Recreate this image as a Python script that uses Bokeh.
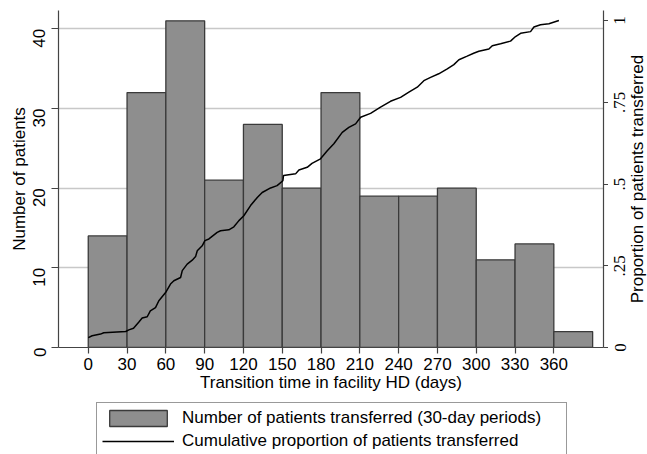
import math
from bokeh.plotting import figure
from bokeh.layouts import column, row
from bokeh.models import (Range1d, LinearAxis, FixedTicker, Legend, LegendItem,
                          LabelSet, Label, ColumnDataSource)
from bokeh.embed import file_html
from bokeh.resources import INLINE

# ---- data ----
bin_left = [0, 30, 60, 90, 120, 150, 180, 210, 240, 270, 300, 330, 360]
counts = [14, 32, 41, 21, 28, 20, 32, 19, 19, 20, 11, 13, 2]
bin_width = 30

cum_days = [0, 0.5, 3, 9.5, 12, 29, 31.4, 35, 39, 41.7, 45.6, 48, 52, 54.6, 59.8,
            63.6, 66.2, 71.4, 72.7, 76.5, 80.4, 83, 84.3, 88.1, 90.2, 93.3, 99.7,
            102.3, 108.7, 112.6, 116.5, 120.3, 125.5, 130.7, 134.5, 141, 146, 150.5,
            151, 160.3, 162.9, 169.3, 173, 179.6, 184.8, 189.9, 196.4, 201.5, 206.7,
            210.6, 218.3, 226, 233.7, 241.5, 247.9, 254.4, 259.5, 264.7, 271, 277.6,
            282.7, 286.6, 293, 298, 302, 309.8, 312.4, 318.8, 326.5, 330.4, 334.3,
            342, 344.6, 349.7, 356.2, 363.9]
cum_prop = [0.030, 0.031, 0.036, 0.041, 0.045, 0.049, 0.054, 0.059, 0.077, 0.090,
            0.094, 0.112, 0.122, 0.143, 0.168, 0.194, 0.204, 0.214, 0.235, 0.255,
            0.267, 0.278, 0.296, 0.311, 0.327, 0.332, 0.352, 0.357, 0.360, 0.369,
            0.388, 0.403, 0.434, 0.459, 0.474, 0.488, 0.495, 0.510, 0.526, 0.531,
            0.543, 0.551, 0.563, 0.577, 0.602, 0.623, 0.658, 0.673, 0.684, 0.704,
            0.716, 0.735, 0.753, 0.765, 0.781, 0.796, 0.816, 0.826, 0.837, 0.852,
            0.865, 0.880, 0.891, 0.900, 0.906, 0.913, 0.923, 0.929, 0.937, 0.951,
            0.961, 0.966, 0.980, 0.987, 0.990, 1.000]

x_ticks = [0, 30, 60, 90, 120, 150, 180, 210, 240, 270, 300, 330, 360]
left_ticks = [0, 10, 20, 30, 40]
right_ticks = [0, 0.25, 0.5, 0.75, 1]
right_tick_labels = ["0", ".25", ".5", ".75", "1"]

x_title = "Transition time in facility HD (days)"
left_title = "Number of patients"
right_title = "Proportion of patients transferred"
bar_label = "Number of patients transferred (30-day periods)"
line_label = "Cumulative proportion of patients transferred"

FONT = "Liberation Sans"
FS = "17px"
AXC = "#444444"
BAR_FILL = "#8e8e8e"
BAR_LINE = "#3a3a3a"

TOTAL_W, TOTAL_H = 647, 454
MAIN_H = 400
B_LEFT, B_RIGHT, B_TOP, B_BOTTOM = 58, 5, 10, 53
MAIN_W = 603 + B_RIGHT            # frame right edge at 603
S_W = TOTAL_W - MAIN_W            # strip on the right for right-axis texts
PROP_RANGE = (0, 1.0306)

p = figure(width=MAIN_W, height=MAIN_H, output_backend="svg", toolbar_location=None,
           x_range=Range1d(-23, 398.4), y_range=Range1d(0, 42.3),
           min_border_left=B_LEFT, min_border_right=B_RIGHT, min_border_top=B_TOP,
           min_border_bottom=B_BOTTOM)
p.extra_y_ranges = {"prop": Range1d(*PROP_RANGE)}
p.outline_line_color = None
p.background_fill_color = "white"
p.border_fill_color = "white"

bar_right = [l + bin_width for l in bin_left]
bars = p.quad(left=bin_left, right=bar_right, bottom=0, top=counts,
              fill_color=BAR_FILL, line_color=BAR_LINE, line_width=1.3)
cum_line = p.line(cum_days, cum_prop, y_range_name="prop",
                  line_color="black", line_width=1.5)

p.xgrid.visible = False
p.ygrid.ticker = FixedTicker(ticks=left_ticks)
p.ygrid.grid_line_color = "#c8c8c8"
p.ygrid.grid_line_width = 1.3


def style_axis(ax):
    ax.axis_line_color = AXC
    ax.axis_line_width = 1.2
    ax.major_tick_line_color = AXC
    ax.major_tick_line_width = 1.2
    ax.major_tick_in = 0
    ax.major_tick_out = 6
    ax.minor_tick_line_color = None
    ax.major_label_text_font = FONT
    ax.major_label_text_font_size = FS
    ax.major_label_text_color = "black"
    ax.axis_label_text_font = FONT
    ax.axis_label_text_font_size = FS
    ax.axis_label_text_font_style = "normal"
    ax.axis_label_text_color = "black"


xax = p.xaxis[0]
xax.ticker = FixedTicker(ticks=x_ticks)
xax.axis_label = x_title
style_axis(xax)
xax.major_label_standoff = 4
xax.axis_label_standoff = 0

yax = p.yaxis[0]
yax.ticker = FixedTicker(ticks=left_ticks)
yax.axis_label = left_title
style_axis(yax)
yax.major_tick_out = 7
yax.major_label_orientation = math.pi / 2
yax.major_label_standoff = 12
yax.axis_label_standoff = -4

# right axis in the main plot: line and ticks only (its texts sit in the strip)
rax = LinearAxis(y_range_name="prop", ticker=FixedTicker(ticks=right_ticks))
style_axis(rax)
rax.major_tick_out = 5
rax.major_label_text_color = None
rax.major_label_standoff = 0
p.add_layout(rax, "right")

# ---- right strip: same vertical scale as the proportion axis ----
frame_h = MAIN_H - B_TOP - B_BOTTOM
k = (PROP_RANGE[1] - PROP_RANGE[0]) / frame_h
frame_bottom_px = B_TOP + frame_h
s_y0 = PROP_RANGE[0] - (TOTAL_H - frame_bottom_px) * k
s_y1 = PROP_RANGE[0] + frame_bottom_px * k

s = figure(width=S_W, height=TOTAL_H, output_backend="svg", toolbar_location=None,
           x_range=Range1d(0, S_W), y_range=Range1d(s_y0, s_y1),
           x_axis_type=None, y_axis_type=None,
           min_border_left=0, min_border_right=0, min_border_top=0, min_border_bottom=0)
s.outline_line_color = None
s.background_fill_color = "white"
s.border_fill_color = "white"

tick_src = ColumnDataSource(dict(x=[11.5] * len(right_ticks), y=right_ticks,
                                 text=right_tick_labels))
tick_labels = LabelSet(x="x", y="y", text="text", source=tick_src,
                       angle=math.pi / 2, text_align="center", text_baseline="middle",
                       text_font=FONT, text_font_size=FS, text_color="black")
s.add_layout(tick_labels)

title_lbl = Label(x=29, y=(PROP_RANGE[0] + PROP_RANGE[1]) / 2, text=right_title,
                  angle=math.pi / 2, text_align="center", text_baseline="middle",
                  text_font=FONT, text_font_size=FS, text_color="black")
s.add_layout(title_lbl)

# ---- legend strip below the plot (proxy renderers hidden, keys still drawn) ----
lf = figure(width=MAIN_W, height=TOTAL_H - MAIN_H, output_backend="svg",
            toolbar_location=None,
            x_range=Range1d(0, 1), y_range=Range1d(0, 1),
            x_axis_type=None, y_axis_type=None,
            min_border_left=B_LEFT, min_border_right=B_RIGHT, min_border_top=0,
            min_border_bottom=0)
lf.outline_line_color = None
lf.background_fill_color = "white"
lf.border_fill_color = "white"
lg_bar = lf.quad(left=bin_left, right=bar_right, bottom=0, top=counts,
                 fill_color=BAR_FILL, line_color=BAR_LINE, line_width=1.3, visible=False)
lg_line = lf.line(cum_days, cum_prop, line_color="black", line_width=1.5, visible=False)

legend = Legend(items=[LegendItem(label=bar_label, renderers=[lg_bar]),
                       LegendItem(label=line_label, renderers=[lg_line])],
                location=(96 - B_LEFT, -3), orientation="vertical")
legend.label_text_font = FONT
legend.label_text_font_size = FS
legend.label_text_color = "black"
legend.border_line_color = "#333333"
legend.border_line_width = 1
legend.background_fill_color = "white"
legend.background_fill_alpha = 1
legend.inactive_fill_alpha = 0
legend.glyph_width = 72
legend.glyph_height = 20
legend.label_height = 20
legend.label_width = 379
legend.label_standoff = 8
legend.spacing = 3
legend.padding = 5
legend.margin = 0
lf.add_layout(legend, "center")

layout = row(column(p, lf, spacing=0), s, spacing=0)
open("out.html", "w").write(file_html(layout, INLINE))
